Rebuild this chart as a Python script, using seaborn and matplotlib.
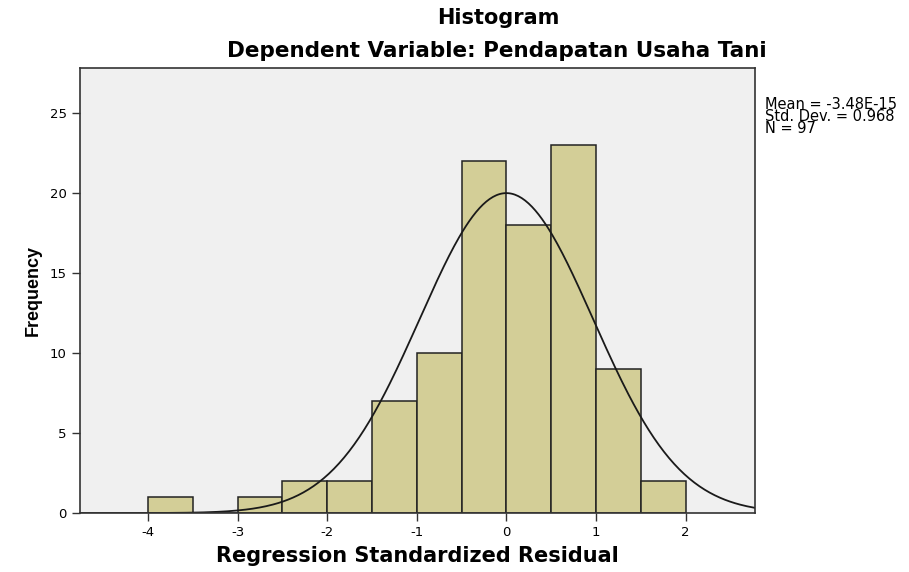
import numpy as np
import pandas as pd
import matplotlib
matplotlib.use("Agg")
import matplotlib.pyplot as plt
import seaborn as sns

# histogram bins (width 0.5) and counts
bin_edges = [-4.0, -3.5, -3.0, -2.5, -2.0, -1.5, -1.0, -0.5, 0.0, 0.5, 1.0, 1.5, 2.0]
counts = [1, 0, 1, 2, 2, 7, 10, 22, 18, 23, 9, 2]
mean = -3.48e-15
std = 0.968
n = 97
x_ticks = [-4, -3, -2, -1, 0, 1, 2]
y_ticks = [0, 5, 10, 15, 20, 25]

sns.set_theme(style="white")
plt.rcParams['font.family'] = ['DejaVu Sans']
plt.rcParams['text.color'] = 'black'
plt.rcParams['axes.labelcolor'] = 'black'
plt.rcParams['xtick.labelcolor'] = 'black'
plt.rcParams['ytick.labelcolor'] = 'black'

df = pd.DataFrame({"x": [(a + b) / 2 for a, b in zip(bin_edges[:-1], bin_edges[1:])],
                   "w": counts})

fig = plt.figure(figsize=(9.09, 5.72), dpi=100)
ax = fig.add_axes([0.088, 0.103, 0.743, 0.778])
ax.set_facecolor("#f0f0f0")

sns.histplot(data=df, x="x", weights="w", bins=bin_edges, ax=ax,
             color="#d3ce97", alpha=1, edgecolor="#222222", linewidth=1.1)

# normal curve scaled to counts
xs = np.linspace(-4.76, 2.78, 400)
bw = bin_edges[1] - bin_edges[0]
ys = n * bw / (std * np.sqrt(2 * np.pi)) * np.exp(-0.5 * ((xs - mean) / std) ** 2)
sns.lineplot(x=xs, y=ys, ax=ax, color="#1a1a1a", linewidth=1.3)

ax.set_xlim(-4.76, 2.78)
ax.set_ylim(0, 27.8)
ax.set_xticks(x_ticks)
ax.set_xticklabels([str(t) for t in x_ticks])
ax.set_yticks(y_ticks)
ax.tick_params(axis="both", direction="out", length=6, width=1, color="#333333",
               labelsize=9.5, bottom=True, left=True)
for s in ax.spines.values():
    s.set_color("#333333")
    s.set_linewidth(1.2)

ax.set_xlabel("Regression Standardized Residual", fontsize=15, fontweight="bold", labelpad=5)
ax.set_ylabel("Frequency", fontsize=13, fontweight="bold", labelpad=6,
              family=['Liberation Sans Narrow', 'Liberation Sans', 'DejaVu Sans'])

fig.text(0.548, 0.968, "Histogram", ha="center", va="center", fontsize=15, fontweight="bold")
fig.text(0.547, 0.911, "Dependent Variable: Pendapatan Usaha Tani", ha="center", va="center",
         fontsize=15.5, fontweight="bold")

fig.text(0.842, 0.83, f"Mean = -3.48E-15\nStd. Dev. = {std}\nN = {n}", ha="left", va="top",
         fontsize=10.5, linespacing=0.75)

fig.savefig("out.png", dpi=100)
